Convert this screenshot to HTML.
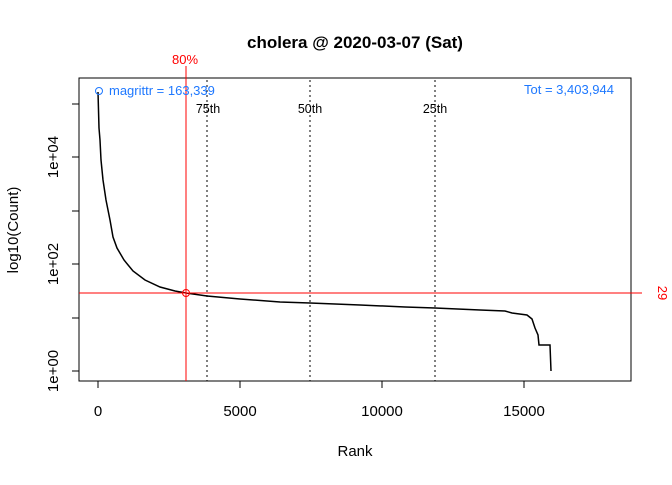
<!DOCTYPE html>
<html><head><meta charset="utf-8"><style>body{margin:0;background:#fff}</style></head><body>
<svg width="672" height="480" xmlns="http://www.w3.org/2000/svg" font-family="Liberation Sans, sans-serif">
<rect width="672" height="480" fill="#fff"/>
<text x="355" y="48" text-anchor="middle" font-size="17" font-weight="bold">cholera @ 2020-03-07 (Sat)</text>
<rect x="79" y="78" width="552" height="303" fill="none" stroke="#000"/>
<g stroke="#000">
<line x1="98" y1="381" x2="524" y2="381"/>
<line x1="98" y1="381" x2="98" y2="388"/><line x1="240" y1="381" x2="240" y2="388"/><line x1="382" y1="381" x2="382" y2="388"/><line x1="524" y1="381" x2="524" y2="388"/>
<line x1="79" y1="371" x2="72" y2="371"/><line x1="79" y1="318" x2="72" y2="318"/><line x1="79" y1="264" x2="72" y2="264"/><line x1="79" y1="211" x2="72" y2="211"/><line x1="79" y1="157" x2="72" y2="157"/><line x1="79" y1="104" x2="72" y2="104"/>
</g>
<g font-size="15" text-anchor="middle">
<text x="98" y="416">0</text><text x="240" y="416">5000</text><text x="382" y="416">10000</text><text x="524" y="416">15000</text>
<text x="355" y="456">Rank</text>
<text transform="translate(58,371) rotate(-90)">1e+00</text>
<text transform="translate(58,264) rotate(-90)">1e+02</text>
<text transform="translate(58,157) rotate(-90)">1e+04</text>
<text transform="translate(18,230) rotate(-90)">log10(Count)</text>
</g>
<g stroke="#000" stroke-dasharray="2,3">
<line x1="207" y1="80" x2="207" y2="381"/><line x1="310" y1="80" x2="310" y2="381"/><line x1="435" y1="80" x2="435" y2="381"/>
</g>
<g font-size="12.5" text-anchor="middle">
<text x="208" y="113">75th</text><text x="310" y="113">50th</text><text x="435" y="113">25th</text>
</g>
<polyline fill="none" stroke="#000" stroke-width="1.5" points="98,92 99,128 100,140 101,160 103,180 106,200 110,220 113,237 117,248 124,260 133,271 145,280 160,287 175,291 186,293 207,296 240,299 280,302 310,303 360,305 405,307 435,308 480,310 505,311 512,313 527,315 532,319 535,328 538,335 539,345 550,345 551,371"/>
<line x1="186" y1="66" x2="186" y2="381" stroke="#f00"/>
<line x1="79" y1="293" x2="642" y2="293" stroke="#f00"/>
<circle cx="186" cy="293" r="3.5" fill="none" stroke="#f00"/>
<text x="185" y="64" fill="#f00" font-size="13" text-anchor="middle">80%</text>
<text transform="translate(658,293) rotate(90)" fill="#f00" font-size="13" text-anchor="middle">29</text>
<circle cx="99" cy="91" r="3.5" fill="none" stroke="#1e78ff"/>
<text x="109" y="95" fill="#1e78ff" font-size="13">magrittr = 163,339</text>
<text x="614" y="94" fill="#1e78ff" font-size="13" text-anchor="end">Tot =  3,403,944</text>
</svg>
</body></html>
